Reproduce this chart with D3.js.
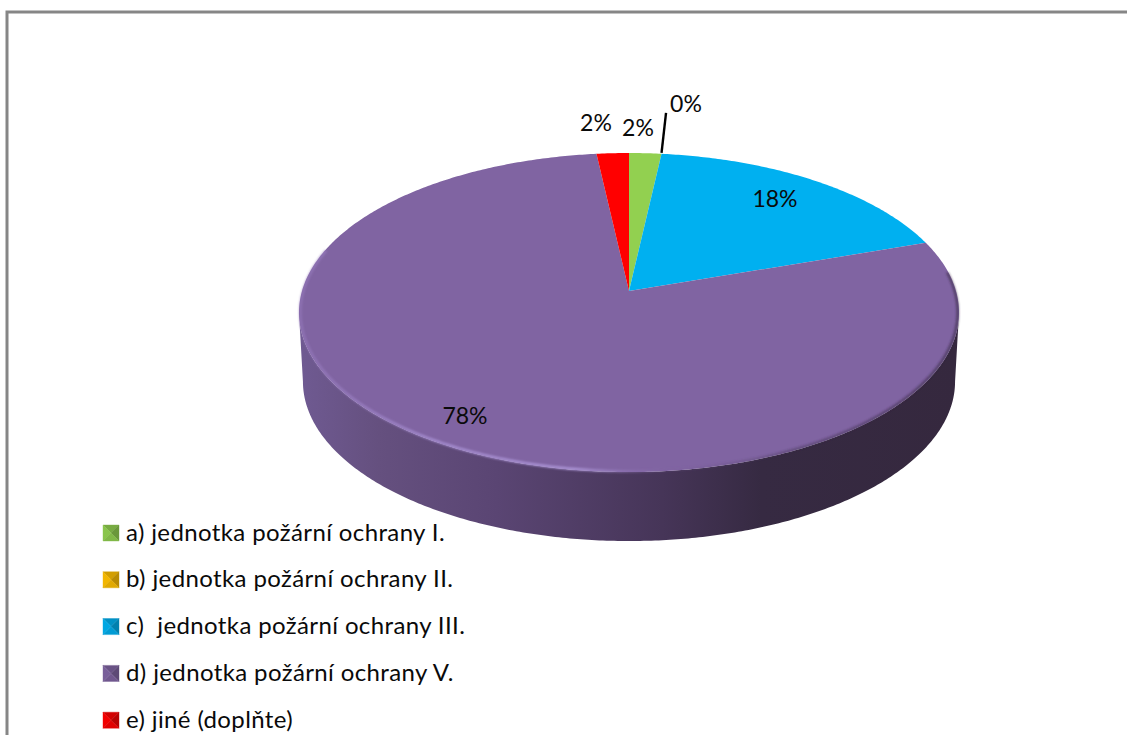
<!DOCTYPE html>
<html><head><meta charset="utf-8">
<script src="https://cdn.jsdelivr.net/npm/d3@7"></script>
<style>html,body{margin:0;padding:0;background:#fff;overflow:hidden}svg{display:block}text{font-family:Lato,"Open Sans",sans-serif;fill:#0a0a0a}</style>
</head><body><svg id="c" width="1127" height="735"></svg>
<script>
const categories = ["a) jednotka požární ochrany I.","b) jednotka požární ochrany II.","c)  jednotka požární ochrany III.","d) jednotka požární ochrany V.","e) jiné (doplňte)"];
const values = [1.8,0,18,78.4,1.8];
const colors = ["#92d050","#ffc000","#00b0f0","#8064a2","#ff0000"];

// layout
const apex = {x:629,y:291}, A = 327, B = 156.6, K = 0.135, depth = 69, sideNarrow = 0.988;
const labelPos = [[638,128],[686,104],[775,199],[465,416],[596,123]];
const legend = {markerX:103,textX:126,size:16,firstY:533,stepY:46.8};

const svg = d3.select("#c");
const defs = svg.append("defs");
const project = (a,r=1,dy=0,nx=1)=>{const u=Math.sin(a)*r,v=Math.cos(a)*r,w=1+K*v;
  return [apex.x+nx*A*u/w, apex.y-B*v/w+dy];};
const line = d3.line();
const arcPts=(a0,a1,r=1,dy=0,nx=1)=>{const n=Math.max(2,Math.ceil(Math.abs(a1-a0)/0.01));
  return d3.range(n+1).map(i=>project(a0+(a1-a0)*i/n,r,dy,nx));};

// frame
svg.append("path").attr("d","M7,735V12H1127").attr("fill","none").attr("stroke","#868686").attr("stroke-width",3);

// side
const sideG = defs.append("linearGradient").attr("id","side").attr("gradientUnits","userSpaceOnUse")
 .attr("x1",299).attr("x2",959).attr("y1",0).attr("y2",0);
[[0,"#6f5a92"],[.12,"#65507f"],[.3,"#5a4573"],[.55,"#463558"],[.7,"#362a42"],[1,"#35283e"]]
 .forEach(([o,c])=>sideG.append("stop").attr("offset",o).attr("stop-color",c));
const am = Math.acos(-K);
const sidePts = arcPts(am,2*Math.PI-am,1,depth,sideNarrow).concat(arcPts(2*Math.PI-am,am));
svg.append("path").attr("d",line(sidePts)+"Z").attr("fill","url(#side)");

// top
const pie = d3.pie().sort(null).value(d=>d);
const arcs = pie(values);
svg.append("g").selectAll("path").data(arcs).join("path")
 .attr("d",d=>line([[apex.x,apex.y],...arcPts(d.startAngle,d.endAngle)])+"Z")
 .attr("fill",(d,i)=>colors[i]);

// bevel
const blur = defs.append("filter").attr("id","b").attr("x","-5%").attr("y","-5%").attr("width","110%").attr("height","110%");
blur.append("feGaussianBlur").attr("stdDeviation",1.1);
const rimG = defs.append("linearGradient").attr("id","rim").attr("gradientUnits","userSpaceOnUse")
 .attr("x1",299).attr("x2",959).attr("y1",0).attr("y2",0);
[[0,"#9478bb",.7],[.2,"#a48ccf",1],[.42,"#ad96d8",1],[.56,"#8064a2",.2],[.75,"#3a2c48",.45],[1,"#3a2c48",.7]]
 .forEach(([o,c,p])=>rimG.append("stop").attr("offset",o).attr("stop-color",c).attr("stop-opacity",p));
svg.append("path").attr("d",line(arcPts(1.45,2*Math.PI-1.3,.996)))
 .attr("fill","none").attr("stroke","url(#rim)").attr("stroke-width",2.5).attr("filter","url(#b)");

// labels
const fmt = d3.format(".0f");
svg.append("g").selectAll("text").data(arcs).join("text")
 .attr("x",(d,i)=>labelPos[i][0]).attr("y",(d,i)=>labelPos[i][1]+8)
 .attr("text-anchor","middle").attr("font-size",23)
 .text(d=>fmt(d.value)+"%");

// leader for the zero slice
const z = project(arcs[1].startAngle);
svg.append("line").attr("x1",z[0]).attr("y1",z[1]-1).attr("x2",z[0]+4.5).attr("y2",z[1]-41)
 .attr("stroke","#000").attr("stroke-width",2.4);

// legend
const ly = d3.scalePoint().domain(categories).range([legend.firstY,legend.firstY+4*legend.stepY]);
const s = legend.size;
const leg = svg.append("g").selectAll("g").data(categories).join("g")
 .attr("transform",d=>`translate(${legend.markerX},${ly(d)-s/2})`);
const faces = [
 {p:[[0,0],[s,0],[s/2,s/2]],k:d=>d3.color(d).darker(.55)},
 {p:[[0,0],[0,s],[s/2,s/2]],k:d=>d3.color(d).darker(.15)},
 {p:[[s,0],[s,s],[s/2,s/2]],k:d=>d3.color(d).darker(.9)},
 {p:[[0,s],[s,s],[s/2,s/2]],k:d=>d3.color(d).darker(.35)}];
leg.each(function(d,i){
  const g=d3.select(this);
  faces.forEach(f=>{const c=f.k(colors[i]).formatHex();
    g.append("path").attr("d",line(f.p)+"Z").attr("fill",c).attr("stroke",c).attr("stroke-width",.4);});
});
leg.append("text").attr("x",legend.textX-legend.markerX).attr("y",s/2+7.5).attr("font-size",24).attr("letter-spacing",.38).style("white-space","pre").text(d=>d);
</script></body></html>
